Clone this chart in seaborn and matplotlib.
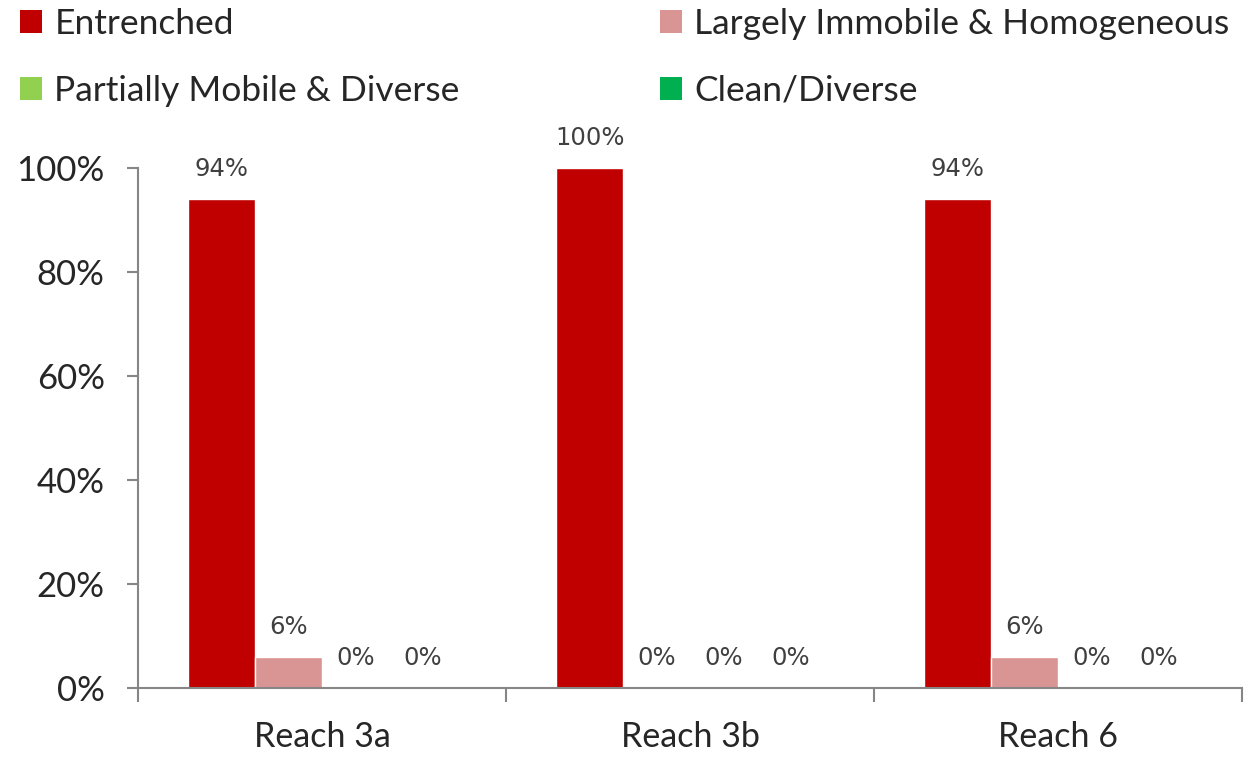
import pandas as pd
import matplotlib.pyplot as plt
import seaborn as sns
from matplotlib.patches import Patch

# Data
reaches = ["Reach 3a", "Reach 3b", "Reach 6"]
classes = ["Entrenched", "Largely Immobile & Homogeneous",
           "Partially Mobile & Diverse", "Clean/Diverse"]
entrenched = [0.94, 1.00, 0.94]
largely_immobile = [0.06, 0.00, 0.06]
partially_mobile = [0.00, 0.00, 0.00]
clean_diverse = [0.00, 0.00, 0.00]
colors = ["#C00000", "#D99594", "#92D050", "#00B050"]

rows = []
for cls, vals in zip(classes, [entrenched, largely_immobile, partially_mobile, clean_diverse]):
    for r, v in zip(reaches, vals):
        rows.append({"reach": r, "class": cls, "share": v})
df = pd.DataFrame(rows)

sns.set_style("white")
plt.rcParams["font.family"] = ["Lato", "DejaVu Sans"]

fig = plt.figure(figsize=(12.59, 7.57), dpi=100)
ax = fig.add_axes([0.1096, 0.0912, 0.877, 0.687])

sns.barplot(data=df, x="reach", y="share", hue="class", hue_order=classes,
            palette=colors, width=0.727, saturation=1, errorbar=None,
            ax=ax, legend=False)

# data labels
for cont in ax.containers:
    ax.bar_label(cont, labels=[f"{v.get_height()*100:.0f}%" for v in cont],
                 padding=13, fontsize=17.5, color="#404040", family="DejaVu Sans")

ax.set_ylim(0, 1.0)
ax.set_xlim(-0.5, 2.5)
ax.set_yticks([0, 0.2, 0.4, 0.6, 0.8, 1.0])
ax.set_yticklabels(["0%", "20%", "40%", "60%", "80%", "100%"], fontsize=25)
ax.set_xlabel("")
ax.set_ylabel("")

# category labels centered, ticks at category boundaries
ax.set_xticks([-0.5, 0.5, 1.5, 2.5])
ax.set_xticklabels([])
ax.set_xticks([0, 1, 2], minor=True)
ax.set_xticklabels(reaches, minor=True, fontsize=24.5)
ax.tick_params(axis="x", which="minor", bottom=False, length=0, pad=24)
ax.tick_params(axis="x", which="major", bottom=True, length=10, width=1.5,
               color="#868686", direction="out")
ax.tick_params(axis="y", left=True, length=8, width=1.5, color="#868686",
               direction="out", pad=16)

for s in ["top", "right"]:
    ax.spines[s].set_visible(False)
for s in ["left", "bottom"]:
    ax.spines[s].set_color("#868686")
    ax.spines[s].set_linewidth(1.5)

# legend: two columns placed separately
handles = [Patch(facecolor=c, edgecolor="none") for c in colors]
leg_kw = dict(loc="upper left", frameon=False, fontsize=25.5, handlelength=0.62,
              handleheight=0.62, handletextpad=0.35, labelspacing=1.0,
              borderaxespad=0, borderpad=0)
fig.legend([handles[0], handles[2]], [classes[0], classes[2]],
           bbox_to_anchor=(0.016, 0.99), **leg_kw)
fig.legend([handles[1], handles[3]], [classes[1], classes[3]],
           bbox_to_anchor=(0.524, 0.99), **leg_kw)

fig.savefig("out.png", dpi=100)
